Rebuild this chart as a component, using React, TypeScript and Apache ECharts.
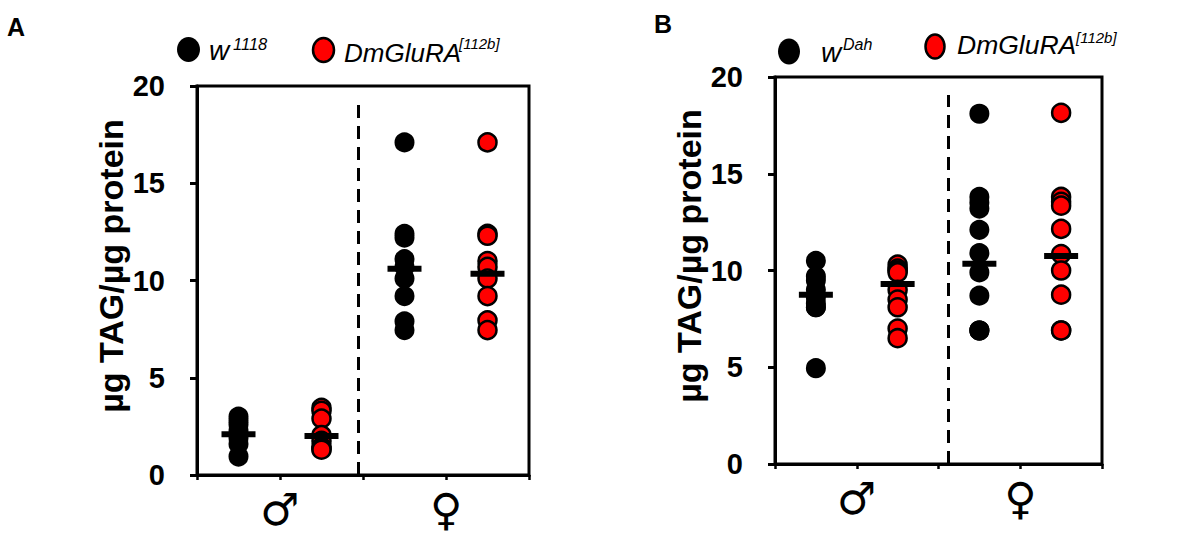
import React, { useEffect, useRef } from 'react';
import * as echarts from 'echarts';

// ---- data ----
const sexes = ['♂', '♀'];
const groups = ['wild-type ♂', 'DmGluRA ♂', 'wild-type ♀', 'DmGluRA ♀'];
const yTicks = [0, 5, 10, 15, 20];

// Panel A (w1118 vs DmGluRA[112b])
const aMaleW = [3.0, 2.8, 2.6, 2.3, 2.1, 1.9, 1.6, 0.95];
const aMaleMut = [3.45, 3.3, 2.9, 2.05, 1.75, 1.45, 1.35, 1.3];
const aFemaleW = [17.1, 12.4, 12.2, 11.1, 10.7, 10.1, 9.2, 7.9, 7.45];
const aFemaleMut = [17.1, 12.4, 12.3, 11.0, 10.7, 10.1, 9.2, 7.95, 7.45];
const aMeans = [2.1, 2.0, 10.6, 10.35];
const aDivider = 1.94;
const aDividerTop = 19.1;

// Panel B (wDah vs DmGluRA[112b])
const bMaleW = [10.5, 9.7, 9.5, 9.0, 8.6, 8.3, 8.1, 8.1, 4.95];
const bMaleMut = [10.3, 10.1, 10.0, 9.9, 9.0, 8.5, 8.1, 7.0, 6.5];
const bFemaleW = [18.1, 13.8, 13.5, 13.2, 12.1, 10.9, 9.9, 8.7, 6.9, 6.9, 6.9];
const bFemaleMut = [18.15, 13.8, 13.55, 13.35, 12.15, 10.85, 10.0, 8.75, 6.9, 6.9];
const bMeans = [8.75, 9.3, 10.35, 10.75];
const bDivider = 2.12;
const bDividerTop = 19.07;

const FONT = '"Liberation Sans", Arial, sans-serif';

const pts = (vals: number[], idx: number) => vals.map((v) => [idx + 0.5, v]);

function buildPanel(
  gi: number,
  maleW: number[],
  maleMut: number[],
  femaleW: number[],
  femaleMut: number[],
  means: number[],
  divider: number,
  dividerTop: number,
  wName: string
) {
  return [
    {
      name: wName,
      type: 'scatter',
      xAxisIndex: gi,
      yAxisIndex: gi,
      symbol: 'circle',
      symbolSize: 18,
      itemStyle: { color: '#000', borderColor: '#000', borderWidth: 2, opacity: 1 },
      data: [...pts(maleW, 0), ...pts(femaleW, 2)],
      z: 2,
      markLine: {
        silent: true,
        symbol: 'none',
        label: { show: false },
        lineStyle: { type: [13, 8], color: '#000', width: 3, opacity: 1 },
        data: [[{ coord: [divider, 0] }, { coord: [divider, dividerTop] }]],
      },
    },
    {
      name: 'DmGluRA[112b]',
      type: 'scatter',
      xAxisIndex: gi,
      yAxisIndex: gi,
      symbol: 'circle',
      symbolSize: 18,
      itemStyle: { color: '#FF0000', borderColor: '#000', borderWidth: 2.5, opacity: 1 },
      data: [...pts(maleMut, 1), ...pts(femaleMut, 3)],
      z: 2,
    },
    {
      name: 'mean',
      type: 'scatter',
      xAxisIndex: gi,
      yAxisIndex: gi,
      symbol: 'rect',
      symbolSize: [34, 6],
      itemStyle: { color: '#000', opacity: 1 },
      data: means.map((v, i) => [i + 0.5, v]),
      z: 3,
    },
  ];
}

function yAxis(gi: number) {
  return {
    gridIndex: gi,
    type: 'value',
    min: yTicks[0],
    max: yTicks[yTicks.length - 1],
    interval: yTicks[1] - yTicks[0],
    axisLine: { show: true, lineStyle: { color: '#000', width: 3 } },
    axisTick: { show: true, length: 7, lineStyle: { color: '#000', width: 3 } },
    axisLabel: { fontSize: 29, fontWeight: 'bold', color: '#000', margin: 32, fontFamily: FONT },
    splitLine: { show: false },
  };
}

function xAxis(gi: number) {
  return {
    gridIndex: gi,
    type: 'value',
    min: 0,
    max: groups.length,
    interval: 1,
    axisLine: { show: true, onZero: false, lineStyle: { color: '#000', width: 3 } },
    axisTick: { show: true, length: 5, lineStyle: { color: '#000', width: 2.5 } },
    axisLabel: {
      formatter: (v: number) => (v === 1 ? sexes[0] : v === 3 ? sexes[1] : ''),
      fontSize: 44,
      color: '#000',
      margin: 12,
      fontFamily: '"DejaVu Sans", sans-serif',
      showMinLabel: true,
      showMaxLabel: true,
    },
    splitLine: { show: false },
  };
}

const txt = (x: number, y: number, text: string, fontSize: number, extra: any = {}, rotation = 0) => ({
  type: 'text',
  x,
  y,
  rotation,
  style: {
    text,
    fontSize,
    fontFamily: FONT,
    fill: '#000',
    align: 'left',
    verticalAlign: 'middle',
    ...extra,
  },
  z: 10,
});

export default function App() {
  const ref = useRef<HTMLDivElement>(null);
  useEffect(() => {
    if (!ref.current) return;
    const chart = echarts.init(ref.current, undefined, { renderer: 'svg' });
    const yName = 'µg TAG/µg protein';
    chart.setOption({
      animation: false,
      backgroundColor: '#fff',
      grid: [
        { left: 197, top: 86, width: 332, height: 389, show: true, borderColor: '#000', borderWidth: 3, backgroundColor: 'transparent' },
        { left: 775, top: 77, width: 327, height: 387, show: true, borderColor: '#000', borderWidth: 3, backgroundColor: 'transparent' },
      ],
      xAxis: [xAxis(0), xAxis(1)],
      yAxis: [yAxis(0), yAxis(1)],
      series: [
        ...buildPanel(0, aMaleW, aMaleMut, aFemaleW, aFemaleMut, aMeans, aDivider, aDividerTop, 'w1118'),
        ...buildPanel(1, bMaleW, bMaleMut, bFemaleW, bFemaleMut, bMeans, bDivider, bDividerTop, 'wDah'),
      ],
      graphic: [
        // panel letters
        txt(7, 27, 'A', 25, { fontWeight: 'bold' }),
        txt(654, 24, 'B', 25, { fontWeight: 'bold' }),
        // y axis names
        txt(111, 266, yName, 34, { fontWeight: 'bold', align: 'center' }, Math.PI / 2),
        txt(689, 256, yName, 34, { fontWeight: 'bold', align: 'center' }, Math.PI / 2),
        // legend A
        { type: 'ellipse', shape: { cx: 188.5, cy: 49.5, rx: 11.5, ry: 12.5 }, style: { fill: '#000' }, z: 10 },
        txt(209, 50, 'w', 28, { fontStyle: 'italic' }),
        txt(233, 44, '1118', 16.5, { fontStyle: 'italic' }),
        { type: 'ellipse', shape: { cx: 323.5, cy: 50, rx: 10.5, ry: 12 }, style: { fill: '#FF0000', stroke: '#000', lineWidth: 2.5 }, z: 10 },
        txt(344, 53, 'DmGluRA', 26, { fontStyle: 'italic' }),
        txt(459, 43, '[112b]', 15, { fontStyle: 'italic' }),
        // legend B
        { type: 'ellipse', shape: { cx: 789, cy: 51.5, rx: 11, ry: 13 }, style: { fill: '#000' }, z: 10 },
        txt(821, 52, 'w', 28, { fontStyle: 'italic' }),
        txt(843, 44, 'Dah', 16, { fontStyle: 'italic' }),
        { type: 'ellipse', shape: { cx: 935, cy: 46.5, rx: 9.5, ry: 12 }, style: { fill: '#FF0000', stroke: '#000', lineWidth: 2.5 }, z: 10 },
        txt(957, 45, 'DmGluRA', 26.5, { fontStyle: 'italic' }),
        txt(1076, 37, '[112b]', 15, { fontStyle: 'italic' }),
      ],
    });
    return () => chart.dispose();
  }, []);
  return <div ref={ref} style={{ position: 'fixed', left: 0, top: 0, width: 1192, height: 534 }} />;
}
